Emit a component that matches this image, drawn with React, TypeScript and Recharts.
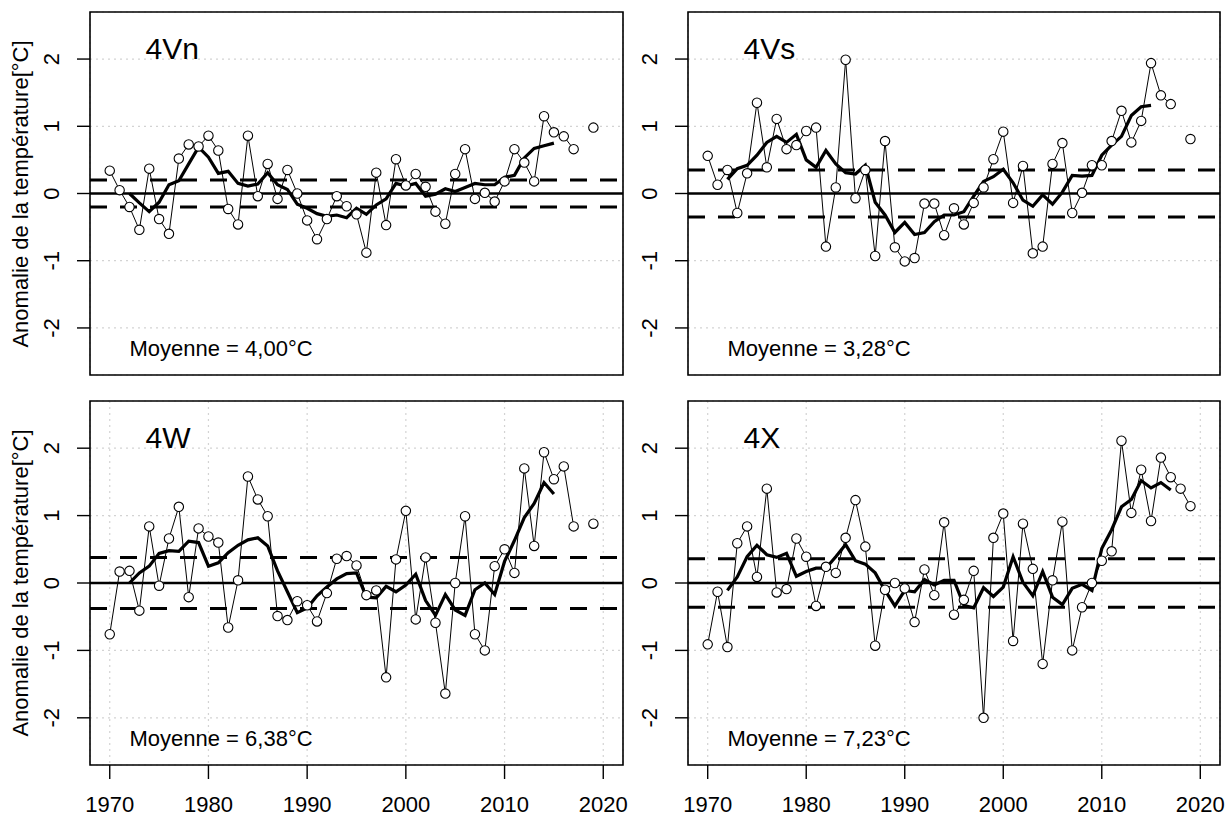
import {
  CartesianGrid,
  ComposedChart,
  Line,
  ReferenceArea,
  ReferenceLine,
  XAxis,
  YAxis,
} from 'recharts'

// Anomalies annuelles de température (°C), 1970-2019, quatre divisions
const years = [
  1970, 1971, 1972, 1973, 1974, 1975, 1976, 1977, 1978, 1979,
  1980, 1981, 1982, 1983, 1984, 1985, 1986, 1987, 1988, 1989,
  1990, 1991, 1992, 1993, 1994, 1995, 1996, 1997, 1998, 1999,
  2000, 2001, 2002, 2003, 2004, 2005, 2006, 2007, 2008, 2009,
  2010, 2011, 2012, 2013, 2014, 2015, 2016, 2017, 2018, 2019,
]

const xTicks = [1970, 1980, 1990, 2000, 2010, 2020]
const yTicks = [-2, -1, 0, 1, 2]

const vnValues = [
  0.34, 0.05, -0.2, -0.54, 0.37, -0.38, -0.6, 0.52, 0.73, 0.7,
  0.86, 0.64, -0.23, -0.46, 0.86, -0.04, 0.44, -0.08, 0.35, 0.0,
  -0.4, -0.68, -0.38, -0.04, -0.19, -0.31, -0.88, 0.31, -0.47, 0.51,
  0.12, 0.29, 0.1, -0.27, -0.45, 0.29, 0.66, -0.08, 0.01, -0.12,
  0.18, 0.66, 0.46, 0.18, 1.15, 0.91, 0.85, 0.66, null, 0.98,
]
// moyenne mobile sur 5 ans
const vnSmooth = [
  null, null, 0.0, -0.14, -0.27, -0.13, 0.13, 0.19, 0.44, 0.69,
  0.54, 0.3, 0.33, 0.15, 0.11, 0.14, 0.31, 0.13, 0.06, -0.16,
  -0.22, -0.3, -0.34, -0.32, -0.36, -0.22, -0.31, -0.17, -0.08, 0.15,
  0.11, 0.15, -0.04, -0.01, 0.07, 0.03, 0.09, 0.15, 0.13, 0.13,
  0.24, 0.27, 0.53, 0.67, 0.71, 0.75, null, null, null, null,
]

const vsValues = [
  0.56, 0.13, 0.35, -0.29, 0.3, 1.35, 0.39, 1.11, 0.66, 0.72,
  0.93, 0.98, -0.79, 0.09, 1.99, -0.07, 0.35, -0.93, 0.78, -0.8,
  -1.01, -0.96, -0.15, -0.15, -0.62, -0.22, -0.46, -0.14, 0.09, 0.51,
  0.92, -0.14, 0.41, -0.89, -0.79, 0.44, 0.75, -0.29, 0.01, 0.42,
  0.42, 0.78, 1.23, 0.76, 1.08, 1.94, 1.46, 1.33, null, 0.81,
]
const vsSmooth = [
  null, null, 0.21, 0.37, 0.42, 0.57, 0.76, 0.85, 0.76, 0.88,
  0.5, 0.39, 0.64, 0.44, 0.31, 0.29, 0.42, -0.13, -0.32, -0.58,
  -0.43, -0.61, -0.58, -0.42, -0.32, -0.32, -0.27, -0.04, 0.18, 0.25,
  0.36, 0.16, -0.1, -0.19, -0.02, -0.16, 0.02, 0.27, 0.26, 0.27,
  0.57, 0.72, 0.85, 1.16, 1.29, 1.31, null, null, null, null,
]

const wValues = [
  -0.76, 0.17, 0.18, -0.41, 0.84, -0.04, 0.66, 1.13, -0.21, 0.81,
  0.69, 0.6, -0.66, 0.04, 1.58, 1.24, 0.99, -0.49, -0.55, -0.27,
  -0.33, -0.57, -0.15, 0.36, 0.4, 0.26, -0.18, -0.11, -1.4, 0.35,
  1.07, -0.54, 0.38, -0.59, -1.64, 0.0, 0.99, -0.76, -1.0, 0.25,
  0.5, 0.15, 1.7, 0.55, 1.94, 1.54, 1.73, 0.84, null, 0.88,
]
const wSmooth = [
  null, null, 0.0, 0.15, 0.25, 0.44, 0.48, 0.47, 0.62, 0.6,
  0.25, 0.3, 0.45, 0.56, 0.64, 0.67, 0.55, 0.18, -0.13, -0.44,
  -0.37, -0.19, -0.06, 0.06, 0.14, 0.15, -0.21, -0.22, -0.05, -0.13,
  -0.03, 0.13, -0.26, -0.48, -0.17, -0.4, -0.48, -0.1, 0.0, -0.17,
  0.32, 0.63, 0.97, 1.18, 1.49, 1.32, null, null, null, null,
]

const xValues = [
  -0.91, -0.13, -0.95, 0.59, 0.84, 0.09, 1.4, -0.14, -0.09, 0.66,
  0.39, -0.34, 0.24, 0.15, 0.67, 1.23, 0.54, -0.93, -0.1, 0.0,
  -0.08, -0.58, 0.2, -0.18, 0.9, -0.47, -0.25, 0.18, -2.0, 0.67,
  1.03, -0.86, 0.88, 0.21, -1.2, 0.04, 0.91, -1.0, -0.36, 0.0,
  0.33, 0.47, 2.11, 1.04, 1.68, 0.92, 1.86, 1.57, 1.4, 1.14,
]
const xSmooth = [
  null, null, -0.11, 0.09, 0.39, 0.56, 0.42, 0.38, 0.44, 0.1,
  0.17, 0.22, 0.22, 0.39, 0.57, 0.33, 0.28, 0.15, -0.11, -0.34,
  -0.11, -0.13, 0.05, -0.03, 0.04, 0.04, -0.33, -0.37, -0.07, -0.2,
  -0.06, 0.39, 0.01, -0.19, 0.17, -0.21, -0.32, -0.08, -0.02, -0.11,
  0.51, 0.79, 1.13, 1.24, 1.52, 1.41, 1.49, 1.38, null, null,
]

// demi-écart type (lignes pointillées)
const bands = [0.2, 0.35, 0.38, 0.36]
const titles = ['4Vn', '4Vs', '4W', '4X']
const means = ['Moyenne = 4,00°C', 'Moyenne = 3,28°C', 'Moyenne = 6,38°C', 'Moyenne = 7,23°C']

const FONT = '"Liberation Sans", Arial, sans-serif'
const Y_TITLE = 'Anomalie de la température[°C]'

interface Box {
  x: number
  y: number
  w: number
  h: number
}

const boxes: Box[] = [
  { x: 90, y: 12, w: 533, h: 363 },
  { x: 688, y: 12, w: 532, h: 363 },
  { x: 90, y: 401, w: 533, h: 364 },
  { x: 688, y: 401, w: 532, h: 364 },
]

const panels = [
  { values: vnValues, smooth: vnSmooth },
  { values: vsValues, smooth: vsSmooth },
  { values: wValues, smooth: wSmooth },
  { values: xValues, smooth: xSmooth },
].map((series, i) => ({
  ...series,
  title: titles[i],
  mean: means[i],
  band: bands[i],
  box: boxes[i],
  xLabels: i >= 2,
  yTitle: i % 2 === 0,
}))

function XTick({ x, y, payload }: { x?: number; y?: number; payload?: { value: number } }) {
  return (
    <text x={x} y={(y ?? 0) + 33} textAnchor="middle" fontSize={22} fontFamily={FONT} fill="#000">
      {payload?.value}
    </text>
  )
}

function YTick({ x, y, payload }: { x?: number; y?: number; payload?: { value: number } }) {
  const tx = (x ?? 0) - 18
  return (
    <text
      x={tx}
      y={y}
      transform={`rotate(-90, ${tx}, ${y})`}
      textAnchor="middle"
      fontSize={22}
      fontFamily={FONT}
      fill="#000"
    >
      {payload?.value}
    </text>
  )
}

function Panel({ panel }: { panel: (typeof panels)[number] }) {
  const { box } = panel
  const rows = years.map((year, i) => ({
    year,
    value: panel.values[i],
    smooth: panel.smooth[i],
  }))
  return (
    <div style={{ position: 'absolute', left: box.x - 90, top: box.y - 12 }}>
      <ComposedChart
        width={box.w + 100}
        height={box.h + 82}
        data={rows}
        margin={{ top: 12, right: 10, bottom: 0, left: 40 }}
      >
        <CartesianGrid stroke="#d3d3d3" strokeDasharray="2 4" strokeWidth={1.2} />
        <XAxis
          dataKey="year"
          type="number"
          domain={[1968, 2022]}
          ticks={xTicks}
          interval={0}
          allowDataOverflow
          axisLine={false}
          tickLine={{ stroke: '#000', strokeWidth: 1.4 }}
          tickSize={14}
          tickMargin={0}
          height={70}
          tick={panel.xLabels ? <XTick /> : false}
        />
        <YAxis
          type="number"
          domain={[-2.7, 2.7]}
          ticks={yTicks}
          interval={0}
          allowDataOverflow
          axisLine={false}
          tickLine={{ stroke: '#000', strokeWidth: 1.4 }}
          tickSize={13}
          tickMargin={0}
          width={50}
          tick={<YTick />}
        />
        <ReferenceLine y={0} stroke="#000" strokeWidth={2.6} />
        <ReferenceLine y={panel.band} stroke="#000" strokeWidth={3} strokeDasharray="17 13" />
        <ReferenceLine y={-panel.band} stroke="#000" strokeWidth={3} strokeDasharray="17 13" />
        <Line
          type="linear"
          dataKey="smooth"
          stroke="#000"
          strokeWidth={3.2}
          dot={false}
          activeDot={false}
          connectNulls={false}
          isAnimationActive={false}
        />
        <Line
          type="linear"
          dataKey="value"
          stroke="#000"
          strokeWidth={1}
          dot={{ r: 4.7, fill: '#fff', stroke: '#000', strokeWidth: 1.1 }}
          activeDot={false}
          connectNulls={false}
          isAnimationActive={false}
        />
        <ReferenceArea
          x1={1968}
          x2={2022}
          y1={-2.7}
          y2={2.7}
          fill="none"
          stroke="#000"
          strokeWidth={1.6}
        />
      </ComposedChart>
    </div>
  )
}

export default function App() {
  return (
    <div
      style={{
        position: 'absolute',
        left: 0,
        top: 0,
        width: 1226,
        height: 816,
        overflow: 'hidden',
        background: '#fff',
        fontFamily: FONT,
        color: '#000',
      }}
    >
      {panels.map((panel) => (
        <Panel key={panel.title} panel={panel} />
      ))}
      {panels.map((panel) => (
        <div key={`${panel.title}-text`}>
          <div
            style={{
              position: 'absolute',
              left: panel.box.x + 55.5,
              top: panel.box.y + 22.3,
              fontSize: 30,
              lineHeight: 1,
              whiteSpace: 'nowrap',
            }}
          >
            {panel.title}
          </div>
          <div
            style={{
              position: 'absolute',
              left: panel.box.x + 39.5,
              top: panel.box.y + panel.box.h - 37.2,
              fontSize: 22,
              lineHeight: 1,
              whiteSpace: 'nowrap',
            }}
          >
            {panel.mean}
          </div>
          {panel.yTitle && (
            <div
              style={{
                position: 'absolute',
                left: 21,
                top: panel.box.y + panel.box.h / 2,
                transform: 'translate(-50%, -50%) rotate(-90deg)',
                fontSize: 22,
                lineHeight: 1,
                whiteSpace: 'nowrap',
              }}
            >
              {Y_TITLE}
            </div>
          )}
        </div>
      ))}
    </div>
  )
}
